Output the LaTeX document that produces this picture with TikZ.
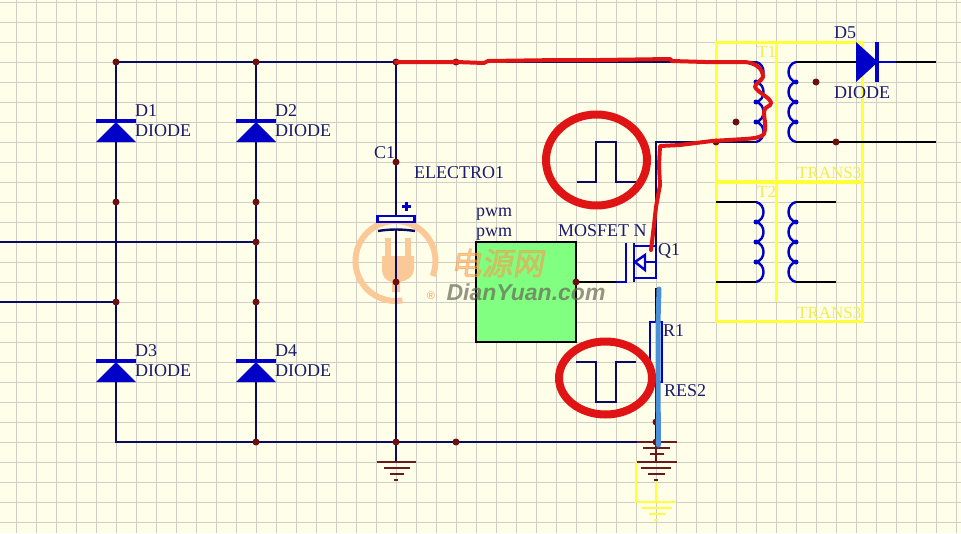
\documentclass[tikz,border=0pt]{standalone}
\usepackage{fontspec}
\setmainfont{Liberation Serif}
\newfontfamily\wmlatin{Liberation Sans}
\newfontfamily\wmcjk[FakeSlant=0.18,FakeBold=2.5]{Noto Sans CJK SC}
\usetikzlibrary{shapes.geometric}
\definecolor{paper}{HTML}{FEFEE9}
\definecolor{gridc}{HTML}{CFCFC6}
\definecolor{wire}{HTML}{0A0A60}
\definecolor{sym}{HTML}{0000C8}
\definecolor{dotc}{HTML}{6E1010}
\definecolor{lab}{HTML}{1A1A70}
\definecolor{pen}{HTML}{E01414}
\definecolor{yel}{HTML}{FFFF3C}
\definecolor{yeltext}{HTML}{F2EC50}
\definecolor{pale}{HTML}{FBC898}
\definecolor{wmo}{HTML}{F5A050}
\definecolor{wmg}{HTML}{686858}
\definecolor{gnd}{HTML}{6A1A1A}
\definecolor{pencil}{HTML}{4A90D9}
\definecolor{blockg}{HTML}{80FF80}
\tikzset{
  x=1pt,y=-1pt,
  wireline/.style={draw=wire,line width=2.4pt},
  blackline/.style={draw=black,line width=2.4pt},
  symline/.style={draw=sym,line width=2.4pt},
  junction/.style={circle,fill=dotc,inner sep=0,minimum size=7pt},
  lbl/.style={anchor=west,inner sep=0,text=lab,font=\fontsize{18}{18}\selectfont},
  ylbl/.style={anchor=west,inner sep=0,text=yeltext,font=\fontsize{17}{17}\selectfont},
  yline/.style={draw=yel,line width=3pt},
  gline/.style={draw=gnd,line width=2.4pt},
  redring/.style={ellipse,draw=pen,line width=8pt,inner sep=0},
  redpen/.style={draw=pen,line width=4pt,line cap=round,line join=round},
}
\newcommand{\diodeup}[2]{%
  \fill[sym] (#1-20,#2+21) -- (#1,#2+1) -- (#1+20,#2+21) -- cycle;
  \draw[draw=sym,line width=3.5pt] (#1-20,#2) -- (#1+20,#2);}
\newcommand{\coilright}[2]{%
  \foreach \k in {0,20,40,60}{\draw[symline] (#1,#2+\k) .. controls (#1+10,#2+\k+2) and (#1+10,#2+\k+18) .. (#1,#2+\k+20);}
  \foreach \k in {20,40,60}{\fill[sym] (#1,#2+\k) circle (2.5);}}
\newcommand{\coilleft}[2]{%
  \foreach \k in {0,20,40,60}{\draw[symline] (#1,#2+\k) .. controls (#1-10,#2+\k+2) and (#1-10,#2+\k+18) .. (#1,#2+\k+20);}
  \foreach \k in {20,40,60}{\fill[sym] (#1,#2+\k) circle (2.5);}}
\begin{document}
\begin{tikzpicture}
\useasboundingbox (0,0) rectangle (961,533);
\fill[paper] (0,0) rectangle (961,533);
% grid
\foreach \gx in {16,36,...,956}{\draw[gridc,line width=1pt] (\gx,0) -- (\gx,533);}
\foreach \gy in {2,22,...,522}{\draw[gridc,line width=1pt] (0,\gy) -- (961,\gy);}
% watermark logo
\draw[pale,line width=6pt] (395.5,261) ++(22:40) arc[start angle=22,end angle=-280,radius=40];
\fill[pale] (382,256) -- (414,256) -- (414,268) .. controls (414,278) and (405,281) .. (400,282) -- (400,292) -- (392,292) -- (392,282) .. controls (387,281) and (382,278) .. (382,268) -- cycle;
\fill[pale] (385,238) rectangle (391,257);
\fill[pale] (405,238) rectangle (411,257);
% named points
\coordinate (tl) at (116,62); \coordinate (t2) at (256,62); \coordinate (t3) at (396,62); \coordinate (t4) at (456,62);
\coordinate (ttr) at (756,62);
\coordinate (bl) at (116,442); \coordinate (b2) at (256,442); \coordinate (b3) at (396,442); \coordinate (b4) at (456,442); \coordinate (b5) at (656,442);
\coordinate (m1) at (116,202); \coordinate (m2) at (256,202); \coordinate (m3) at (256,242); \coordinate (m4) at (116,302); \coordinate (m5) at (256,302);
\coordinate (inA) at (0,242); \coordinate (inB) at (0,302);
\coordinate (capT) at (396,216); \coordinate (capB) at (396,230); \coordinate (c1) at (396,162); \coordinate (c2) at (396,282);
\coordinate (sw) at (656,142); \coordinate (swe) at (756,142); \coordinate (qd) at (656,246); \coordinate (qs) at (656,288);
\coordinate (rt) at (656,322); \coordinate (rb) at (656,382); \coordinate (r3) at (656,422);
\coordinate (gate) at (576,282); \coordinate (gate2) at (616,282); \coordinate (gate3) at (626,282);
\coordinate (j716) at (716,142); \coordinate (j736) at (736,122); \coordinate (j816) at (816,82); \coordinate (j836) at (836,142);
\coordinate (s1) at (796,62); \coordinate (s2) at (796,142); \coordinate (d5a) at (856,62); \coordinate (d5k) at (878,62); \coordinate (o1) at (936,62); \coordinate (o2) at (936,142);
% yellow transformer frames
\draw[yline] (716,42) rectangle (862,181);
\draw[yline] (716,182) rectangle (862,321);
\draw[yline] (776,42) -- (776,181);
\draw[yline] (776,182) -- (776,302);
\node[ylbl] (T1) at (757,52) {T1};
\node[ylbl] (T2) at (757,192) {T2};
\node[ylbl] (tr1) at (797,173) {TRANS3};
\node[ylbl] (tr2) at (797,313) {TRANS3};
% wires
\draw[wireline] (tl) -- (ttr);
\draw[wireline] (tl) -- (bl) -- (b5);
\draw[wireline] (t2) -- (b2);
\draw[wireline] (inA) -- (m3);
\draw[wireline] (inB) -- (m4);
\draw[wireline] (t3) -- (capT);
\draw[wireline] (capB) -- (b3);
\draw[wireline] (b3) -- (396,462);
\draw[wireline] (qd) -- (sw) -- (swe);
\draw[blackline] (s1) -- (d5a);
\draw[blackline] (d5k) -- (o1);
\draw[blackline] (s2) -- (o2);
\draw[symline] (d5k) -- (896,62);
\draw[blackline] (gate) -- (gate2);
\draw[blackline] (qs) -- (rt);
\draw[blackline] (rb) -- (b5);
\draw[blackline] (716,202) -- (756,202);
\draw[blackline] (716,282) -- (756,282);
\draw[blackline] (796,202) -- (836,202);
\draw[blackline] (796,282) -- (836,282);
% diodes
\diodeup{116}{121}
\diodeup{256}{121}
\diodeup{116}{361}
\diodeup{256}{361}
\fill[sym] (856,42) -- (878,62) -- (856,82) -- cycle;
\draw[draw=sym,line width=3.5pt] (877,42) -- (877,82);
% capacitor
\draw[draw=sym,line width=2.4pt,fill=paper] (377.5,216) rectangle (414.5,222);
\draw[draw=wire,line width=2.4pt] (378,231) .. controls (390,229) and (402,229) .. (415,231);
\draw[draw=sym,line width=2.4pt] (402,206.5) -- (411,206.5) (406.5,202) -- (406.5,211);
% mosfet
\draw[symline] (gate2) -- (gate3) -- (626,243);
\draw[symline] (634,243) -- (634,282);
\draw[symline] (634,246) -- (656,246) -- (656,278) -- (634,278);
\draw[symline] (645,262) -- (656,262);
\draw[draw=sym,line width=2.4pt,fill=paper] (635,262) -- (645,255) -- (645,270) -- cycle;
% coils
\coilright{756}{62}
\coilleft{796}{62}
\coilright{756}{202}
\coilleft{796}{202}
% PWM block
\node[draw=black,line width=2.4pt,fill=blockg,minimum width=100pt,minimum height=100pt,inner sep=0,outer sep=0] (pwm) at (526,292) {};
% watermark text, lying over the block
\node[inner sep=0,text=wmo,opacity=0.55,font=\wmcjk\fontsize{31}{31}\selectfont] (wmcn) at (497,263) {电源网};
\node[inner sep=0,text=wmg,opacity=0.7,font=\wmlatin\bfseries\itshape\fontsize{23}{23}\selectfont] (wmen) at (526,292) {DianYuan.com};
\node[inner sep=0,text=wmo,font=\wmlatin\fontsize{11}{11}\selectfont] (wmr) at (431,296) {®};
% resistor
\draw[draw=sym,line width=2.5pt] (650,322) rectangle (662,382);
% ground
\draw[gline] (b5) -- (656,462);
\draw[gline] (637,442) -- (677,442) (643,448) -- (670,448) (650,454) -- (664,454);
\draw[yline,line width=2.5pt] (636,462) -- (636,502) -- (676,502);
\draw[yline,line width=2.5pt] (656,482) -- (656,502);
\draw[yline,line width=2pt] (642,508) -- (672,508) (649,514) -- (665,514) (654,520) -- (658,520);
\draw[gline] (637,462) -- (677,462) (641,468) -- (671,468) (648,474) -- (665,474) (654,480) -- (658,480);
\draw[gline] (377,462) -- (416,462) (384,468) -- (410,468) (390,474) -- (404,474) (394,480) -- (398,480);
% pulses
\draw[wireline,line join=miter] (577,182) -- (596,182) -- (596,142) -- (616,142) -- (616,182) -- (636,182);
\draw[wireline,line join=miter] (576,362) -- (596,362) -- (596,402) -- (616,402) -- (616,362) -- (636,362);
% labels
\node[lbl] (D1) at (135,111) {D1};
\node[lbl] (D1v) at (135,131) {DIODE};
\node[lbl] (D2) at (275,111) {D2};
\node[lbl] (D2v) at (275,131) {DIODE};
\node[lbl] (D3) at (135,351) {D3};
\node[lbl] (D3v) at (135,371) {DIODE};
\node[lbl] (D4) at (275,351) {D4};
\node[lbl] (D4v) at (275,371) {DIODE};
\node[lbl] (D5) at (834,33) {D5};
\node[lbl] (D5v) at (834,93) {DIODE};
\node[lbl] (C1) at (374,153) {C1};
\node[lbl] (Cv) at (414,173) {ELECTRO1};
\node[lbl] (pw1) at (476,214) {pwm};
\node[lbl] (pw2) at (476,234) {pwm};
\node[lbl] (Qv) at (558,231) {MOSFET N};
\node[lbl] (Q1) at (658,251) {Q1};
\node[lbl] (R1) at (663,331) {R1};
\node[lbl] (Rv) at (664,391) {RES2};
% junctions
\foreach \p/\n in {tl/a,t2/b,t3/c,t4/d,b2/e,b3/f,b4/g,b5/h,m1/i,m2/j,m3/k,m4/l,m5/m,c1/n,c2/o,r3/p,gate/q,j716/r,j736/s,j816/t,j836/u}{\node[junction] (dot\n) at (\p) {};}
% hand-drawn marks
\draw[pencil,line width=5pt,line cap=round] (659,289) -- (658,322) -- (658,382) -- (658.5,445);
\node[redring,minimum width=101pt,minimum height=91pt] (ringA) at (596.5,160) {};
\node[redring,minimum width=93pt,minimum height=73pt] (ringB) at (605.5,378) {};
\draw[redpen] (396,62) -- (456,62) -- (484,63) -- (488,61) -- (560,60) -- (600,60) -- (670,59) -- (672,61) -- (705,62) -- (745,62)
  .. controls (755,63) and (763,68) .. (763,77) .. controls (761,82) and (755,83) .. (755,87) .. controls (757,92) and (771,98) .. (771,103) .. controls (771,107) and (764,106) .. (764,112) .. controls (764,118) and (766,125) .. (765,130) .. controls (765,136) and (760,138) .. (745,139) -- (712,141) -- (680,145) -- (660,146) -- (659,165) -- (660,185) -- (656,207) -- (654,225) -- (651,250);
\end{tikzpicture}
\end{document}
